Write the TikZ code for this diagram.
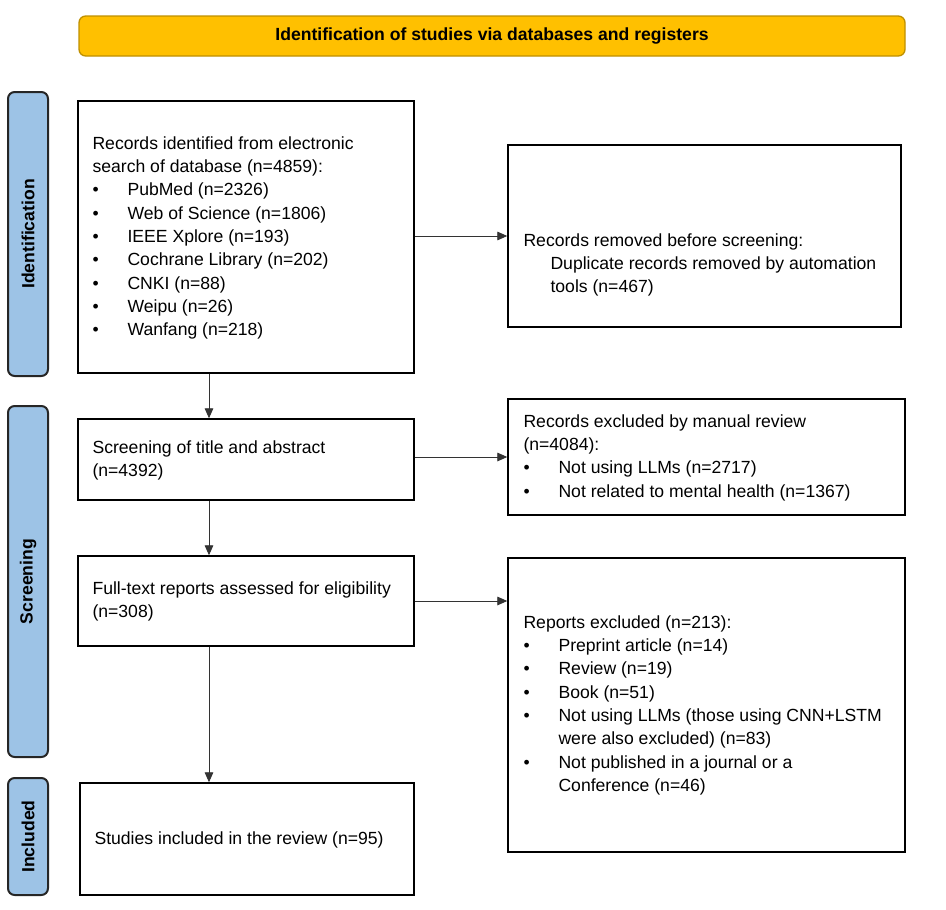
\documentclass[tikz,border=0pt]{standalone}
\usepackage{fontspec}
\setmainfont{Liberation Sans}
\usepackage{tikz}
\usetikzlibrary{arrows.meta}
\usetikzlibrary{positioning}
\usepackage{xcolor}
\definecolor{barorange}{HTML}{FFC000}
\definecolor{barborder}{HTML}{BF9000}
\definecolor{sideblue}{HTML}{9DC3E6}
\newcommand{\bul}{\makebox[26.25pt][l]{\textbullet}}
\newcommand{\bulgap}{\hspace*{26.25pt}}

\begin{document}
\begin{tikzpicture}[x=0.75pt, y=-0.75pt,
    every node/.style={font=\fontsize{13.2}{17.5}\selectfont},
    box/.style={draw=black, line width=1.1pt, inner sep=0pt},
    side/.style={draw=black!85, line width=1.5pt, fill=sideblue, rounded corners=5pt, rotate=90,
        minimum height=30pt, inner sep=0pt, font=\fontsize{13.2}{16}\selectfont\bfseries},
    txt/.style={anchor=north west, align=left, inner sep=0pt},
    arr/.style={-{Triangle[length=7.5pt,width=6.5pt]}, line width=0.7pt, draw=black!80}]
    \useasboundingbox (0,0) rectangle (946,910);

    % Title bar
    \node[draw=barborder, fill=barorange, rounded corners=5pt, line width=1pt, minimum width=619.5pt,
        minimum height=30pt, inner sep=0pt, font=\fontsize{13.2}{16}\selectfont\bfseries]
        (title) at (492,36) {Identification of studies via databases and registers};

    % Phase labels
    \node[side, minimum width=213pt] (ident) at (28,234) {Identification};
    \node[side, minimum width=263.25pt] (screen) at (28,581.5) {Screening};
    \node[side, minimum width=87.75pt] (incl) at (28,836.5) {Included};

    % Identification
    \node[box, minimum width=252pt, minimum height=204pt] (rec) at (246,237) {};
    \node[txt] (recT) at ([shift={(15,36)}]rec.north west)
        {Records identified from electronic\\
         search of database (n=4859):\\
         \bul PubMed (n=2326)\\
         \bul Web of Science (n=1806)\\
         \bul IEEE Xplore (n=193)\\
         \bul Cochrane Library (n=202)\\
         \bul CNKI (n=88)\\
         \bul Weipu (n=26)\\
         \bul Wanfang (n=218)};

    \node[box, minimum width=294.75pt, minimum height=136.5pt] (dup) at (704.5,236) {};
    \node[txt] (dupT) at ([shift={(16,89)}]dup.north west)
        {Records removed before screening:\\
         \hspace*{20.25pt}Duplicate records removed by automation\\
         \hspace*{20.25pt}tools (n=467)};

    % Screening
    \node[box, minimum width=252pt, minimum height=60.75pt] (scr) at (246,459.5) {};
    \node[txt] (scrT) at ([shift={(15,22)}]scr.north west)
        {Screening of title and abstract\\
         (n=4392)};

    \node[box, minimum width=297.75pt, minimum height=87pt] (exc) at (706.5,457) {};
    \node[txt] (excT) at ([shift={(16,16)}]exc.north west)
        {Records excluded by manual review\\
         (n=4084):\\
         \bul Not using LLMs (n=2717)\\
         \bul Not related to mental health (n=1367)};

    \node[box, minimum width=252pt, minimum height=67.5pt] (full) at (246,601) {};
    \node[txt] (fullT) at ([shift={(15,26)}]full.north west)
        {Full-text reports assessed for eligibility\\
         (n=308)};

    \node[box, minimum width=297.75pt, minimum height=220.5pt] (rep) at (706.5,705) {};
    \node[txt] (repT) at ([shift={(16,58)}]rep.north west)
        {Reports excluded (n=213):\\
         \bul Preprint article (n=14)\\
         \bul Review (n=19)\\
         \bul Book (n=51)\\
         \bul Not using LLMs (those using CNN+LSTM\\
         \bulgap were also excluded) (n=83)\\
         \bul Not published in a journal or a\\
         \bulgap Conference (n=46)};

    % Included
    \node[box, minimum width=250.5pt, minimum height=84pt] (inc) at (247,839) {};
    \node[txt] (incT) at ([shift={(15,49)}]inc.north west)
        {Studies included in the review (n=95)};

    % Connectors
    \draw[arr] (rec.east |- dup.west) -- (dup.west);
    \draw[arr] ([xshift=-27.75pt]rec.south) -- ([xshift=-27.75pt]scr.north);
    \draw[arr] (scr.east |- exc.west) -- (exc.west);
    \draw[arr] ([xshift=-27.75pt]scr.south) -- ([xshift=-27.75pt]full.north);
    \draw[arr] (full.east) -- (full.east -| rep.west);
    \draw[arr] ([xshift=-27.75pt]full.south) -- ([xshift=-27.75pt]full.south |- inc.north);
\end{tikzpicture}
\end{document}
